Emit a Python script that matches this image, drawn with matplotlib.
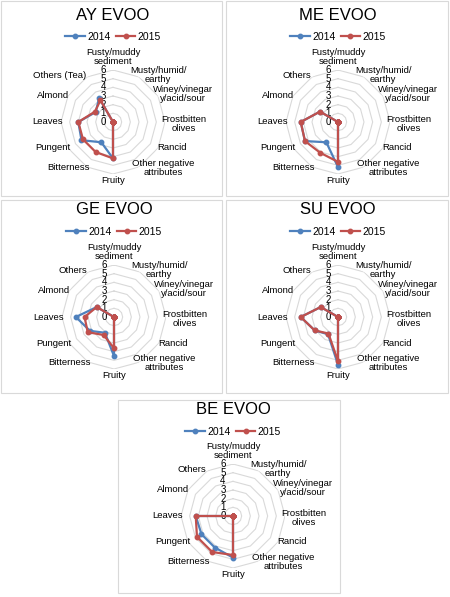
import matplotlib
matplotlib.use('Agg')
import matplotlib.pyplot as plt
import numpy as np
from matplotlib.patches import Rectangle

plt.rcParams['font.family'] = ['Liberation Sans Narrow', 'Liberation Sans', 'DejaVu Sans']

# attribute order, clockwise from the top
categories = ['Fusty/muddy\nsediment', 'Musty/humid/\nearthy', 'Winey/vinegar\ny/acid/sour',
              'Frostbitten\nolives', 'Rancid', 'Other negative\nattributes', 'Fruity',
              'Bitterness', 'Pungent', 'Leaves', 'Almond', 'Others']
titles = ['AY EVOO', 'ME EVOO', 'GE EVOO', 'SU EVOO', 'BE EVOO']
others_labels = ['Others (Tea)', 'Others', 'Others', 'Others', 'Others']
years = ['2014', '2015']

ay_2014 = [0, 0, 0, 0, 0, 0, 4.2, 2.7, 4.2, 4.0, 2.3, 3.2]
ay_2015 = [0, 0, 0, 0, 0, 0, 4.2, 4.0, 4.0, 4.0, 2.4, 2.9]
me_2014 = [0, 0, 0, 0, 0, 0, 5.2, 2.7, 4.4, 4.3, 2.4, 0]
me_2015 = [0, 0, 0, 0, 0, 0, 4.6, 4.1, 4.4, 4.3, 2.4, 0]
ge_2014 = [0, 0, 0, 0, 0, 0, 4.5, 2.1, 3.2, 4.4, 2.3, 0]
ge_2015 = [0, 0, 0, 0, 0, 0, 3.6, 2.4, 3.5, 3.4, 2.3, 0]
su_2014 = [0, 0, 0, 0, 0, 0, 5.5, 2.3, 3.1, 4.3, 2.3, 0]
su_2015 = [0, 0, 0, 0, 0, 0, 5.1, 2.2, 3.1, 4.3, 2.3, 0]
be_2014 = [0, 0, 0, 0, 0, 0, 4.8, 4.2, 4.2, 4.3, 0, 0]
be_2015 = [0, 0, 0, 0, 0, 0, 4.5, 4.8, 4.8, 4.3, 0, 0]

series = [(ay_2014, ay_2015), (me_2014, me_2015), (ge_2014, ge_2015),
          (su_2014, su_2015), (be_2014, be_2015)]
colors = ['#4f81bd', '#c0504d']

W, H = 450, 597
fig = plt.figure(figsize=(4.5, 5.97), dpi=100)

# panel layout in pixels: box (x0, y0, x1, y1), radar centre, title y, legend y
boxes = [(1, 1, 222, 196), (226, 1, 448, 196), (1, 200, 222, 393),
         (226, 200, 448, 393), (118, 400, 340, 593)]
centres = [(113, 122), (338, 122), (114, 317), (338, 317), (233, 516)]
title_y = [15, 15, 210, 210, 409]
legend_y = [37, 37, 232, 232, 432]
R = 52  # radius of the 6 ring in pixels

# label anchor offsets (data units, x right / y up)
label_pos = [(0, 7.5), (5.2, 5.4), (8.1, 3.2), (8.2, -0.2), (6.8, -3.0), (5.8, -5.3),
             (0, -6.8), (-5.1, -5.3), (-6.9, -3.0), (-7.5, 0), (-6.9, 3.1), (-3.1, 5.4)]

n = len(categories)
theta = np.linspace(0, 2 * np.pi, n, endpoint=False)
theta_c = np.append(theta, theta[0])

for i in range(5):
    x0, y0, x1, y1 = boxes[i]
    fig.patches.append(Rectangle((x0 / W, 1 - y1 / H), (x1 - x0) / W, (y1 - y0) / H,
                                 transform=fig.transFigure, fill=False,
                                 edgecolor='#d9d9d9', lw=0.8))
    cx, cy = centres[i]
    ax = fig.add_axes([(cx - R) / W, 1 - (cy + R) / H, 2 * R / W, 2 * R / H], projection='polar')
    ax.set_theta_zero_location('N')
    ax.set_theta_direction(-1)
    ax.set_ylim(0, 6)
    ax.axis('off')

    # polygon rings
    for k in range(1, 7):
        ax.plot(theta_c, [k] * (n + 1), color='#d9d9d9', lw=0.8, zorder=1)
    for k in range(0, 7):
        ax.annotate(str(k), xy=(0, k), xytext=(-10, 0), textcoords='offset pixels',
                    ha='center', va='center', fontsize=7)

    lines = []
    for vals, c, yr in zip(series[i], colors, years):
        v = np.append(vals, vals[0])
        ln, = ax.plot(theta_c, v, color=c, lw=1.6, marker='o', markersize=3.2,
                      label=yr, zorder=3)
        lines.append(ln)

    labels = categories[:-1] + [others_labels[i]]
    for j, lab in enumerate(labels):
        dx, dy = label_pos[j]
        th = np.arctan2(dx, dy)
        r = np.hypot(dx, dy)
        ha = 'right' if j == n - 1 else 'center'
        ax.text(th, r, lab, ha=ha, va='center', multialignment='center',
                fontsize=6.8, linespacing=0.95)

    fig.text(cx / W, 1 - title_y[i] / H, titles[i], ha='center', va='center', fontsize=12)
    fig.legend(handles=lines, loc='center', bbox_to_anchor=(cx / W, 1 - legend_y[i] / H),
               ncol=2, frameon=False, fontsize=7.5, handlelength=1.9, handletextpad=0.2,
               columnspacing=0.5, borderpad=0, borderaxespad=0)

fig.savefig('out.png', dpi=100)
